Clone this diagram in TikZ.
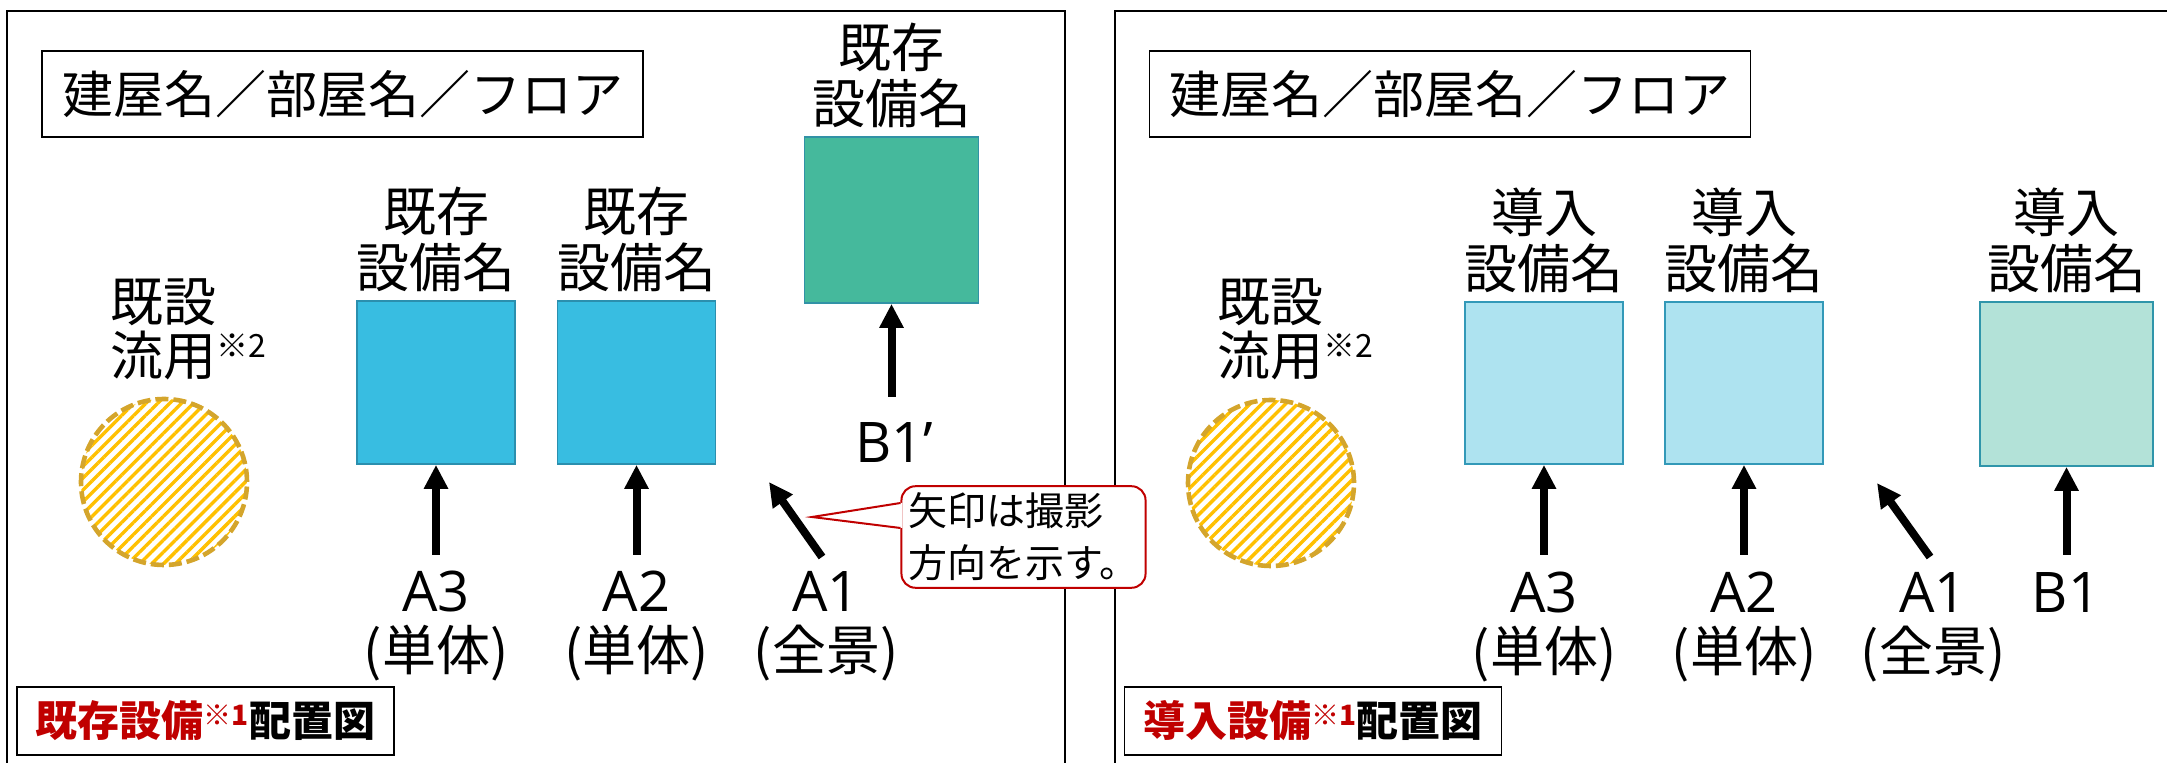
\documentclass[tikz,border=0pt]{standalone}
\usepackage{fontspec}
\setmainfont{Noto Sans CJK JP}
\newfontfamily\latinfont{Open Sans}
\usetikzlibrary{positioning,arrows.meta,patterns.meta}
\definecolor{eqblue}{HTML}{38BDE1}
\definecolor{eqblueline}{HTML}{2B8FAE}
\definecolor{eqgreen}{HTML}{45B99C}
\definecolor{eqgreenline}{HTML}{3192A6}
\definecolor{newblue}{HTML}{AEE3F0}
\definecolor{newblueline}{HTML}{3399B8}
\definecolor{newgreen}{HTML}{B3E2D8}
\definecolor{newgreenline}{HTML}{2F95AA}
\definecolor{hatchyellow}{HTML}{FFC000}
\definecolor{hatchline}{HTML}{D4A52C}
\definecolor{notered}{HTML}{C00000}
\newcommand\kome[3]{\raisebox{#1}{\fontsize{#2}{#2}\selectfont #3}}
\newcommand\shotid[1]{{\latinfont\fontsize{28pt}{29.5pt}\selectfont #1}}

\begin{document}
\begin{tikzpicture}[x=0.5pt,y=-0.5pt]
		\tikzstyle{panel}=[line width=1.1pt]
		\tikzstyle{titlebox}=[draw,line width=0.8pt,minimum width=300.5pt,minimum height=43pt,inner sep=0pt,font=\fontsize{25.5pt}{28pt}\selectfont]
		\tikzstyle{eqbox}=[draw,line width=0.9pt,inner sep=0pt]
		\tikzstyle{eqname}=[align=center,inner sep=0pt,font=\fontsize{26.5pt}{28pt}\selectfont]
		\tikzstyle{shotname}=[align=center,inner sep=0pt,anchor=north,font=\fontsize{27pt}{29.5pt}\selectfont]
		\tikzstyle{reuse}=[circle,draw=hatchline,line width=2.3pt,dash pattern=on 6.5pt off 2.5pt,minimum size=83pt,inner sep=0pt,pattern={Lines[angle=45,distance=4.2pt,line width=1.7pt]},pattern color=hatchyellow]
		\tikzstyle{reusename}=[anchor=north west,align=left,inner sep=0pt,font=\fontsize{26.5pt}{27pt}\selectfont]
		\tikzstyle{shot}=[line width=4pt,-{Triangle[length=12pt,width=11.5pt]}]
		\tikzstyle{mapname}=[draw,line width=0.8pt,minimum width=188.5pt,minimum height=34pt,inner sep=0pt,font=\bfseries\fontsize{21pt}{24pt}\selectfont]
		\tikzstyle{callbox}=[draw=notered,line width=1pt,fill=white,rounded corners=7pt,minimum width=118.5pt,minimum height=50pt,inner xsep=3.5pt,align=left,font=\fontsize{19.5pt}{26pt}\selectfont]

		\useasboundingbox (0,0) rectangle (2167,763);
		\clip (0,0) rectangle (2167,763);
		\draw[panel] (7,800) |- (1065,11) -- (1065,800);
		\draw[panel] (1115,800) |- (2200,11);

		% existing equipment
		\node[titlebox] (oldroom) at (342.5,94) {建屋名／部屋名／フロア};
		\node[reuse] (oldreuse) at (164,482) {};
		\node[reusename] (oldreusename) at (110,278) {既設\\流用\kome{9pt}{16pt}{※2}};
		\foreach \n / \x in {A3/436,A2/636.5} {
			\node[eqbox,fill=eqblue,draw=eqblueline,minimum width=79pt,minimum height=81.5pt] (old\n) at (\x,382.5) {};
			\node[eqname,above=4pt of old\n] (oldname\n) {既存\\設備名};
			\coordinate (oldfrom\n) at (\x,555);
			\draw[shot] (oldfrom\n) -- (old\n.south);
			\node[shotname] (oldshot\n) at (\x,571) {\shotid{\n}\\(単体)};
		}
		\coordinate (oldfromA1) at (822,557);
		\coordinate (oldtoA1) at (769,482);
		\draw[shot] (oldfromA1) -- (oldtoA1);
		\node[shotname] (oldshotA1) at (826,571) {\shotid{A1}\\(全景)};
		\node[eqbox,fill=eqgreen,draw=eqgreenline,minimum width=87pt,minimum height=83pt] (oldB1) at (891.5,220) {};
		\node[eqname,above=4pt of oldB1] (oldnameB1) {既存\\設備名};
		\coordinate (oldfromB1) at (891.5,397);
		\draw[shot] (oldfromB1) -- (oldB1.south);
		\node[shotname] (oldshotB1) at (894,422) {\shotid{B1’}};
		\node[mapname] (oldmap) at (205.5,721) {\textcolor{notered}{既存設備\kome{5.5pt}{14pt}{※1}}配置図};

		% new equipment
		\node[titlebox] (newroom) at (1450,94) {建屋名／部屋名／フロア};
		\node[reuse] (newreuse) at (1271,483) {};
		\node[reusename] (newreusename) at (1217,278) {既設\\流用\kome{9pt}{16pt}{※2}};
		\foreach \n / \x in {A3/1544,A2/1744} {
			\node[eqbox,fill=newblue,draw=newblueline,minimum width=79pt,minimum height=81pt] (new\n) at (\x,383) {};
			\node[eqname,above=4pt of new\n] (newname\n) {導入\\設備名};
			\coordinate (newfrom\n) at (\x,555);
			\draw[shot] (newfrom\n) -- (new\n.south);
			\node[shotname] (newshot\n) at (\x,572) {\shotid{\n}\\(単体)};
		}
		\coordinate (newfromA1) at (1930,557);
		\coordinate (newtoA1) at (1877,483);
		\draw[shot] (newfromA1) -- (newtoA1);
		\node[shotname] (newshotA1) at (1933,572) {\shotid{A1}\\(全景)};
		\node[eqbox,fill=newgreen,draw=newgreenline,minimum width=86.5pt,minimum height=82pt] (newB1) at (2066.5,384) {};
		\node[eqname,above=4pt of newB1] (newnameB1) {導入\\設備名};
		\coordinate (newfromB1) at (2066.5,555);
		\draw[shot] (newfromB1) -- (newB1.south);
		\node[shotname] (newshotB1) at (2066,572) {\shotid{B1}};
		\node[mapname] (newmap) at (1313,721) {\textcolor{notered}{導入設備\kome{5.5pt}{14pt}{※1}}配置図};

		% note on the arrows
		\node[callbox] (callnote) at (1023.5,537) {矢印は撮影\\方向を示す。};
		\coordinate (calltip) at (812,517);
		\fill[white] ([yshift=17pt]callnote.west) -- (calltip) -- ([yshift=4.5pt]callnote.west) -- ([xshift=1pt,yshift=4.5pt]callnote.west) -- ([xshift=1pt,yshift=17pt]callnote.west) -- cycle;
		\draw[notered,line width=1pt] ([yshift=17pt]callnote.west) -- (calltip) -- ([yshift=4.5pt]callnote.west);
\end{tikzpicture}
\end{document}
